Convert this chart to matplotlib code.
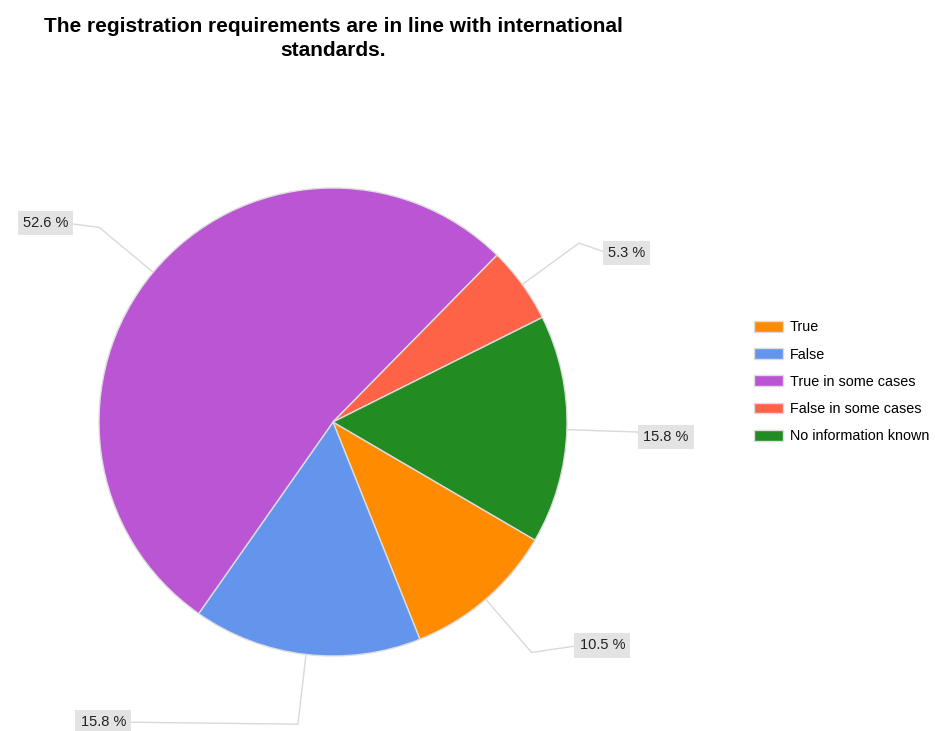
import numpy as np
import matplotlib
matplotlib.use("Agg")
import matplotlib.pyplot as plt

plt.rcParams['font.family'] = ['Liberation Sans', 'DejaVu Sans']

categories = ['True', 'False', 'True in some cases', 'False in some cases', 'No information known']
counts = [2, 3, 10, 1, 3]
colors = ['#FF8C00', '#6495ED', '#BA55D3', '#FF6347', '#228B22']
title = 'The registration requirements are in line with international\nstandards.'

# layout in pixels (axes spans the whole figure, y up)
W, H = 935, 731
cx, cy, r = 333, H - 422, 234
start = -30.3
# leader line run after the elbow, and label shift
label_dx = [48, -172, -31, 29, 6]
label_dy = [7, 2, 4, -10, -5]

fig = plt.figure(figsize=(W / 100, H / 100), dpi=100)
ax = fig.add_axes([0, 0, 1, 1])

wedges, _ = ax.pie(counts, colors=colors, startangle=start, counterclock=False,
                   center=(cx, cy), radius=r, frame=True,
                   wedgeprops=dict(edgecolor='#dddddd', linewidth=1))
ax.set_xlim(0, W)
ax.set_ylim(0, H)
ax.set_aspect('equal')
ax.axis('off')

total = sum(counts)
for w, c, dx, dy in zip(wedges, counts, label_dx, label_dy):
    mid = np.deg2rad((w.theta1 + w.theta2) / 2)
    p0 = (cx + r * np.cos(mid), cy + r * np.sin(mid))
    p1 = (cx + 1.3 * r * np.cos(mid), cy + 1.3 * r * np.sin(mid))
    p2 = (p1[0] + dx, p1[1] + dy)
    ax.plot([p0[0], p1[0], p2[0]], [p0[1], p1[1], p2[1]], color='#d9d9d9', lw=1, zorder=1)
    ha = 'left' if dx > 0 else 'right'
    ax.text(p2[0], p2[1], '%.1f %%' % (100.0 * c / total), ha=ha, va='center',
            fontsize=10.5, color='#222222',
            bbox=dict(boxstyle='square,pad=0.35', facecolor='#e3e3e3', edgecolor='none'))

ax.legend(wedges, categories, loc='upper left', bbox_to_anchor=(747 / W, 1 - 313 / H),
          frameon=False, fontsize=10.4, handlelength=2.0, handleheight=0.78,
          labelspacing=0.92, handletextpad=0.45, borderpad=0)

fig.text(333 / W, 1 - 17 / H, title, ha='center', va='top', fontsize=15,
         fontweight='bold', linespacing=1.35)

fig.savefig('out.png', dpi=100, facecolor='white')
